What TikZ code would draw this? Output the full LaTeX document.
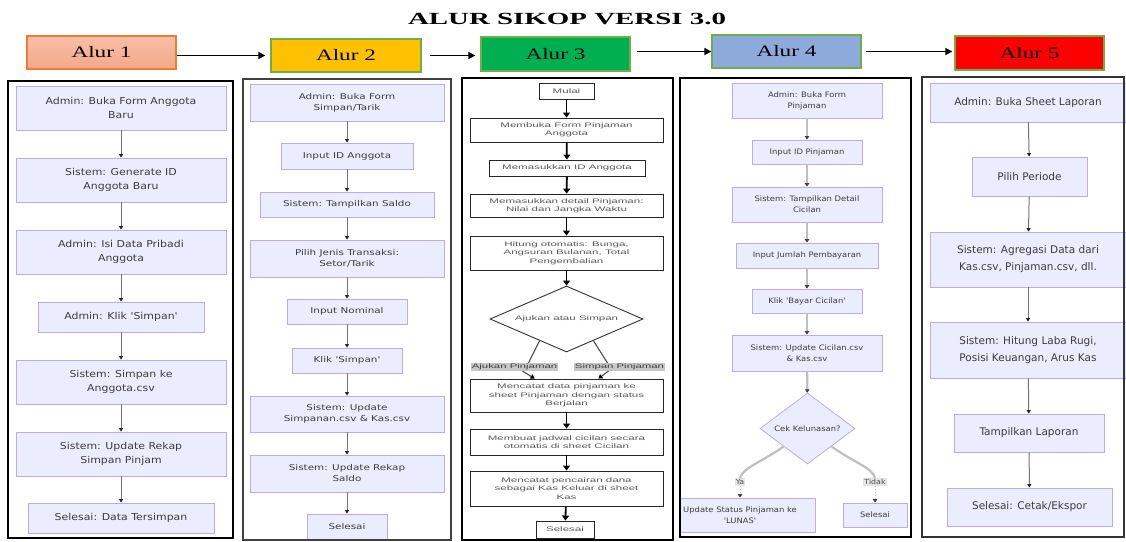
\documentclass[tikz,border=0pt]{standalone}
\usepackage{fontspec}
\usetikzlibrary{arrows.meta,shapes.geometric,calc}
\newfontfamily\fonta[FakeStretch=1.15]{DejaVu Sans}
\newfontfamily\fontb[FakeStretch=1.3]{DejaVu Sans}
\newfontfamily\fontc[FakeStretch=1.75]{Liberation Sans}
\newfontfamily\fontd[FakeStretch=1.12]{DejaVu Sans}
\newfontfamily\fonte{DejaVu Sans}
\newfontfamily\fonth[FakeStretch=1.45]{Liberation Serif}
\newfontfamily\fontt[FakeStretch=1.7]{Liberation Serif}
\definecolor{mfill}{RGB}{236,236,255}
\definecolor{mstroke}{RGB}{190,170,235}
\definecolor{mtext}{RGB}{60,60,60}
\definecolor{hborder}{RGB}{112,173,71}
\definecolor{horange}{RGB}{237,125,49}
\definecolor{hsalmonA}{RGB}{248,190,165}
\definecolor{hsalmonB}{RGB}{243,168,138}
\definecolor{hyellow}{RGB}{255,192,0}
\definecolor{hgreen}{RGB}{0,176,80}
\definecolor{hblue}{RGB}{142,170,219}
\definecolor{hred}{RGB}{255,0,0}
\newcommand\bx[7]{\node[#6, minimum width={(#4)-(#2)}, minimum height={(#5)-(#3)}] (#1) at ({((#2)+(#4))/2},{((#3)+(#5))/2}) {#7};}
\tikzset{
  mbox/.style={draw=mstroke, fill=mfill, line width=0.8pt, inner sep=0pt, align=center, text=mtext},
  colA/.style={mbox, font=\fonta\fontsize{9.5}{14.5}\selectfont},
  colB/.style={mbox, font=\fontb\fontsize{8}{11}\selectfont},
  colD/.style={mbox, font=\fontd\fontsize{7.5}{11}\selectfont},
  colE/.style={mbox, font=\fonte\fontsize{10.5}{17}\selectfont},
  wbox/.style={draw=black!85, line width=0.9pt, fill=white, inner sep=0pt, align=center, text=black!65, font=\fontc\fontsize{6.6}{8.3}\selectfont},
  panel/.style={draw=black, line width=1.2pt, inner sep=0pt},
  marrow/.style={draw=black!55, line width=1pt, -{Triangle[length=3.5pt,width=4pt,color=black!85]}},
  gline/.style={draw=black!25, line width=2.2pt},
  garrow/.style={gline, -{Triangle[length=3.5pt,width=4.5pt,color=black!75]}},
  barrow/.style={draw=black, line width=1.8pt, -{Triangle[length=5pt,width=7pt]}},
  bline/.style={draw=black!70, line width=1.1pt},
  harrow/.style={draw=black, line width=1.6pt, -{Triangle[length=7pt,width=7pt]}},
  hbox/.style={draw=hborder, line width=1.3pt, inner sep=0pt, font=\fonth\fontsize{16}{18}\selectfont},
  elabC/.style={fill=black!22, inner sep=0.8pt, text=black!75, font=\fontc\fontsize{6.5}{8}\selectfont},
  elabD/.style={fill=black!10, inner sep=1pt, text=black!70, font=\fontd\fontsize{7}{8}\selectfont},
  mdia/.style={diamond, draw=mstroke, fill=mfill, line width=0.8pt, inner sep=0pt, aspect=1.34, text=mtext, font=\fontd\fontsize{7.5}{9}\selectfont},
  wdia/.style={diamond, draw=black!80, line width=0.9pt, fill=white, inner sep=0pt, aspect=2.3, text=black!65, font=\fontc\fontsize{6.6}{9}\selectfont}
}
\begin{document}
\begin{tikzpicture}[x=1pt,y=-1pt]
\useasboundingbox (0,0) rectangle (1126,541);
\fill[white] (0,0) rectangle (1126,541);
% title
\node[font=\fontt\bfseries\fontsize{17}{20}\selectfont] (title) at (567,19) {ALUR SIKOP VERSI 3.0};
% header boxes
\bx{h1}{27}{36}{176}{69}{hbox, draw=horange, top color=hsalmonA, bottom color=hsalmonB}{Alur 1}
\bx{h2}{271}{39}{421}{72}{hbox, fill=hyellow}{Alur 2}
\bx{h3}{481}{37}{630}{71}{hbox, fill=hgreen}{Alur 3}
\bx{h4}{712}{35}{861}{68}{hbox, fill=hblue}{Alur 4}
\bx{h5}{955}{36}{1104}{70}{hbox, fill=hred}{Alur 5}
\draw[harrow] (h1.east |- h2.west) -- ([xshift=-5pt]h2.west);
\draw[harrow] ([xshift=8pt]h2.east) -- ([xshift=-5pt]h3.west |- h2.east);
\draw[harrow] ([xshift=6pt]h3.east |- h4.west) -- (h4.west);
\draw[harrow] ([xshift=4pt]h4.east) -- ([xshift=-2pt]h5.west |- h4.east);
% ---------- column 1
\bx{c1a}{16}{86}{226}{130}{colA}{Admin: Buka Form Anggota\\Baru}
\bx{c1b}{16}{158}{226}{202}{colA}{Sistem: Generate ID\\Anggota Baru}
\bx{c1c}{16}{230}{226}{274}{colA}{Admin: Isi Data Pribadi\\Anggota}
\bx{c1d}{38}{302}{204}{332}{colA}{Admin: Klik 'Simpan'}
\bx{c1e}{16}{360}{226}{404}{colA}{Sistem: Simpan ke\\Anggota.csv}
\bx{c1f}{16}{432}{226}{476}{colA}{Sistem: Update Rekap\\Simpan Pinjam}
\bx{c1g}{28}{503}{214}{533}{colA}{Selesai: Data Tersimpan}
\foreach \a/\b in {c1a/c1b,c1b/c1c,c1c/c1d,c1d/c1e,c1e/c1f,c1f/c1g}
  \draw[marrow] (\a) -- (\b);
% ---------- column 2
\bx{c2a}{250}{84}{444}{121}{colB}{Admin: Buka Form\\Simpan/Tarik}
\bx{c2b}{281}{143}{413}{169}{colB}{Input ID Anggota}
\bx{c2c}{260}{192}{434}{217}{colB}{Sistem: Tampilkan Saldo}
\bx{c2d}{250}{240}{444}{277}{colB}{Pilih Jenis Transaksi:\\Setor/Tarik}
\bx{c2e}{287}{299}{407}{324}{colB}{Input Nominal}
\bx{c2f}{292}{348}{402}{373}{colB}{Klik 'Simpan'}
\bx{c2g}{250}{396}{444}{432}{colB}{Sistem: Update\\Simpanan.csv \& Kas.csv}
\bx{c2h}{250}{455}{444}{492}{colB}{Sistem: Update Rekap\\Saldo}
\bx{c2i}{307}{514}{387}{539}{colB}{Selesai}
\foreach \a/\b in {c2a/c2b,c2b/c2c,c2c/c2d,c2d/c2e,c2e/c2f,c2f/c2g,c2g/c2h,c2h/c2i}
  \draw[marrow] (\a) -- (\b);
% ---------- column 3
\bx{m1}{539}{83}{594}{99}{wbox}{Mulai}
\bx{m2}{470}{118}{663}{142}{wbox}{Membuka Form Pinjaman\\Anggota}
\bx{m3}{489}{160}{645}{176}{wbox}{Memasukkan ID Anggota}
\bx{m4}{470}{194}{663}{217}{wbox}{Memasukkan detail Pinjaman:\\Nilai dan Jangka Waktu}
\bx{m5}{470}{236}{663}{270}{wbox}{Hitung otomatis: Bunga,\\Angsuran Bulanan, Total\\Pengembalian}
\node[wdia, minimum width=153pt, minimum height=66pt] (md) at (566.5,319) {Ajukan atau Simpan};
\node[elabC] (la) at (514.5,367) {Ajukan Pinjaman};
\node[elabC] (ls) at (619.5,367) {Simpan Pinjaman};
\bx{m6}{470}{379}{663}{412}{wbox}{Mencatat data pinjaman ke\\sheet Pinjaman dengan status\\Berjalan}
\bx{m7}{470}{429}{663}{455}{wbox}{Membuat jadwal cicilan secara\\otomatis di sheet Cicilan}
\bx{m8}{470}{471}{663}{506}{wbox}{Mencatat pencairan dana\\sebagai Kas Keluar di sheet\\Kas}
\bx{m9}{536}{521}{594}{538}{wbox}{Selesai}
\foreach \a/\b in {m1/m2,m2/m3,m3/m4,m4/m5,m5/md,m6/m7,m7/m8,m8/m9}
  \draw[barrow] (\a) -- (\b);
\draw[bline] ($(md.west)!0.65!(md.south)$) -- ([xshift=14pt]la.north);
\draw[bline, -{Triangle[length=4pt,width=5pt,color=black]}] ([xshift=8pt]la.south) -- ([xshift=65pt]m6.north west);
\draw[bline] ($(md.east)!0.65!(md.south)$) -- ([xshift=-12pt]ls.north);
\draw[bline, -{Triangle[length=4pt,width=5pt,color=black]}] ([xshift=-11pt]ls.south) -- ([xshift=-65pt]m6.north east);
% ---------- column 4
\bx{f1}{732}{83}{882}{118}{colD}{Admin: Buka Form\\Pinjaman}
\bx{f2}{752}{140}{862}{164}{colD}{Input ID Pinjaman}
\bx{f3}{732}{187}{882}{222}{colD}{Sistem: Tampilkan Detail\\Cicilan}
\bx{f4}{736}{243}{878}{268}{colD}{Input Jumlah Pembayaran}
\bx{f5}{752}{289}{862}{313}{colD}{Klik 'Bayar Cicilan'}
\bx{f6}{732}{335}{882}{371}{colD}{Sistem: Update Cicilan.csv\\\& Kas.csv}
\node[mdia, minimum width=95pt, minimum height=71pt] (fd) at (807.5,428.5) {Cek Kelunasan?};
\begin{scope}
\clip (681,79) rectangle (910,536);
\bx{f7}{665}{498}{815}{532}{colD}{Update Status Pinjaman ke\\'LUNAS'}
\end{scope}
\bx{f8}{843}{503}{907}{527}{colD}{Selesai}
\foreach \a/\b in {f1/f2,f2/f3,f3/f4,f4/f5,f5/f6,f6/fd}
  \draw[garrow] (\a) -- (\b);
\node[elabD] (ya) at (740,482) {Ya};
\node[elabD] (td) at (875,482) {Tidak};
\draw[gline] (fd.south west) .. controls (762,462) and (742,468) .. (ya.north);
\draw[gline] (fd.south east) .. controls (853,462) and (873,468) .. (td.north);
\draw[garrow, line width=1pt, dotted] (ya.south) -- (f7.north);
\draw[garrow, line width=1pt, dotted] (td.south) -- (f8.north);
% ---------- column 5
\bx{e1}{930}{83}{1126}{122}{colE}{Admin: Buka Sheet Laporan}
\bx{e2}{972}{157}{1087}{196}{colE}{Pilih Periode}
\bx{e3}{930}{232}{1126}{287}{colE}{Sistem: Agregasi Data dari\\Kas.csv, Pinjaman.csv, dll.}
\bx{e4}{930}{322}{1126}{378}{colE}{Sistem: Hitung Laba Rugi,\\Posisi Keuangan, Arus Kas}
\bx{e5}{954}{414}{1104}{452}{colE}{Tampilkan Laporan}
\bx{e6}{947}{488}{1112}{526}{colE}{Selesai: Cetak/Ekspor}
\foreach \a/\b in {e1/e2,e2/e3,e3/e4,e4/e5,e5/e6}
  \draw[marrow] (\a) -- (\b);
% ---------- panels
\bx{p1}{8}{81}{233}{538}{panel}{}
\bx{p2}{243}{79}{451}{540}{panel, draw=black!75}{}
\bx{p3}{462}{78}{673}{540}{panel, line width=2.4pt}{}
\bx{p4}{680}{78}{911}{537}{panel}{}
\bx{p5}{922}{77}{1124}{537}{panel, draw=black!80}{}
\end{tikzpicture}
\end{document}
